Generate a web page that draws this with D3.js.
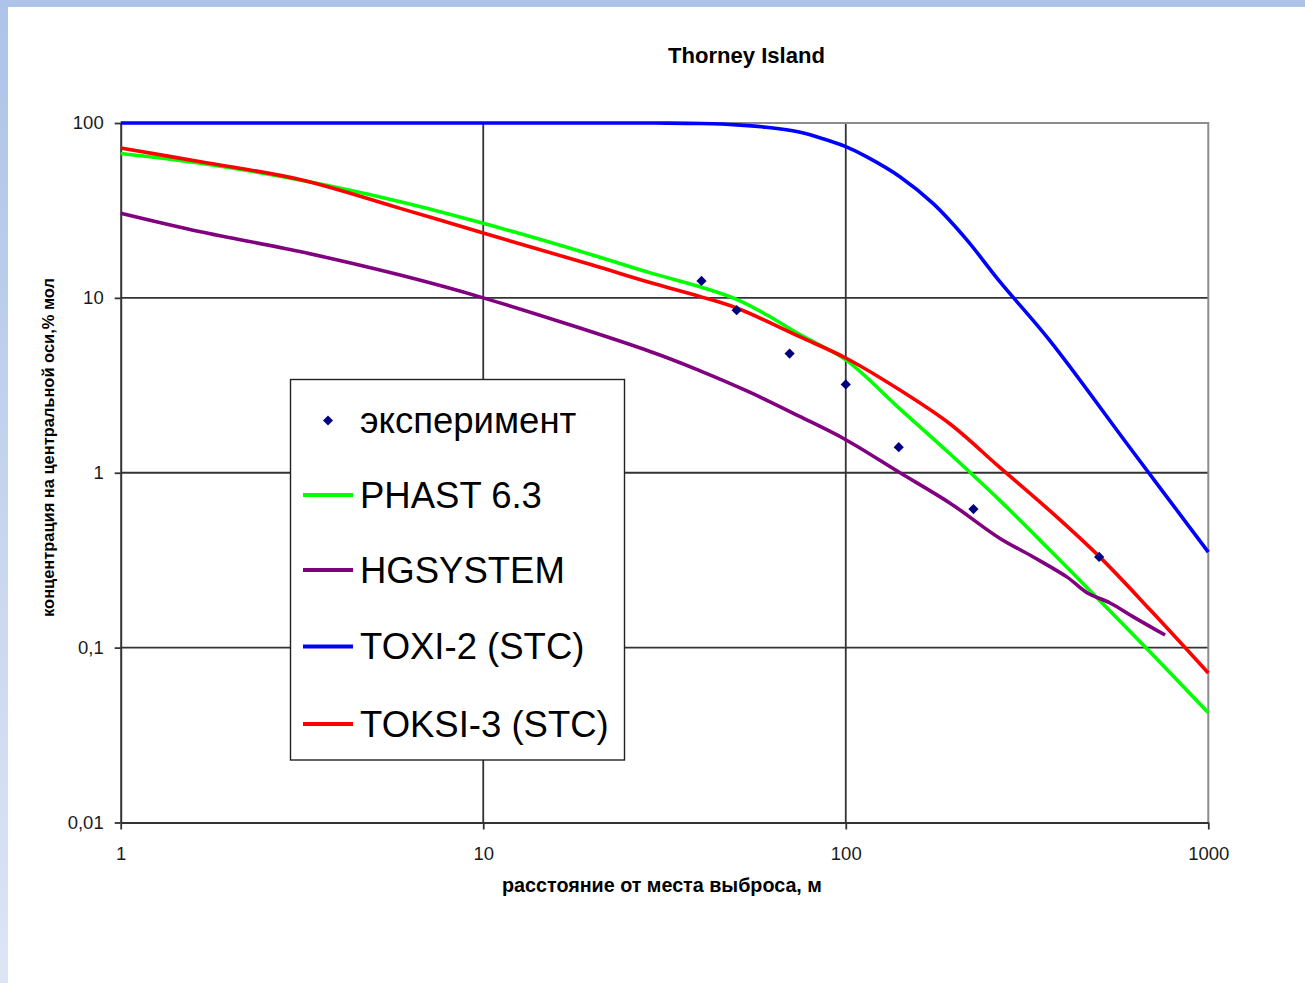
<!DOCTYPE html>
<html>
<head>
<meta charset="utf-8">
<script src="https://cdn.jsdelivr.net/npm/d3@7/dist/d3.min.js"></script>
<style>
  html, body { margin: 0; padding: 0; background: #fff; }
  svg { display: block; }
  text { font-family: "Liberation Sans", Arial, sans-serif; }
</style>
</head>
<body>
<svg id="chart" width="1305" height="983"></svg>
<script>
// Thorney Island: centre-line concentration vs distance from the release point

const chartTitle = "Thorney Island";
const xTitle = "расстояние от места выброса, м";
const yTitle = "концентрация на центральной оси,% мол";

const xTicks = [1, 10, 100, 1000];
const xTickLabels = ["1", "10", "100", "1000"];
const yTicks = [0.01, 0.1, 1, 10, 100];
const yTickLabels = ["0,01", "0,1", "1", "10", "100"];

// experiment
const expDist = [40, 50, 70, 100, 140, 225, 500];
const expConc = [12.5, 8.5, 4.8, 3.2, 1.4, 0.62, 0.33];

// PHAST 6.3
const phastDist = [1, 1.66, 3.12, 5.9, 10, 20, 28.9, 40, 50, 60.6, 74.9, 100, 141, 194, 265, 366, 504, 692, 1000];
const phastConc = [67, 58.9, 47.2, 35.5, 26.7, 17.6, 13.9, 11.5, 9.8, 7.98, 6.14, 4.42, 2.32, 1.28, 0.70, 0.36, 0.184, 0.094, 0.0424];

// HGSYSTEM
const hgDist = [1, 1.66, 3.12, 5.9, 10, 29, 39.5, 54.5, 74.6, 100, 140, 194, 265, 329, 408, 463, 536, 621, 760];
const hgConc = [30.5, 23.9, 18.4, 13.5, 10, 4.92, 3.84, 2.88, 2.10, 1.545, 1.01, 0.67, 0.424, 0.330, 0.253, 0.206, 0.180, 0.150, 0.118];

// TOXI-2 (STC)
const toxiDist = [1, 10, 25, 32, 40, 50, 60.3, 74.9, 87, 100, 114, 141, 174, 216, 265, 366, 608, 1000];
const toxiConc = [100, 100, 100, 99.9, 99.3, 97.6, 94.5, 88.5, 81, 73.2, 64.2, 49.3, 34.7, 21.4, 12.5, 5.68, 1.39, 0.352];

// TOKSI-3 (STC)
const toksiDist = [1, 1.66, 3.12, 5.9, 10, 20, 29, 39.5, 50, 74.6, 100, 141, 194, 265, 366, 504, 692, 1000];
const toksiConc = [72, 60, 47.5, 32.5, 23.5, 15.4, 12.2, 10.2, 8.75, 6.0, 4.53, 2.97, 1.9, 1.08, 0.605, 0.327, 0.164, 0.0716];

const seriesNames = ["эксперимент", "PHAST 6.3", "HGSYSTEM", "TOXI-2 (STC)", "TOKSI-3 (STC)"];
const seriesColors = ["#000080", "#00ff00", "#800080", "#0000ff", "#ff0000"];

const lines = [
  { dist: phastDist, conc: phastConc, color: seriesColors[1] },
  { dist: hgDist, conc: hgConc, color: seriesColors[2] },
  { dist: toxiDist, conc: toxiConc, color: seriesColors[3] },
  { dist: toksiDist, conc: toksiConc, color: seriesColors[4] }
];

const svg = d3.select("#chart");

// slide frame: blue band along top and left edges
const defs = svg.append("defs");
const grad = defs.append("linearGradient").attr("id", "leftBand")
  .attr("x1", 0).attr("y1", 0).attr("x2", 0).attr("y2", 1);
grad.append("stop").attr("offset", "0%").attr("stop-color", "#aec3e8");
grad.append("stop").attr("offset", "100%").attr("stop-color", "#dde5f5");
svg.append("rect").attr("x", 0).attr("y", 0).attr("width", 8).attr("height", 983).attr("fill", "url(#leftBand)");
svg.append("rect").attr("x", 0).attr("y", 0).attr("width", 1305).attr("height", 7).attr("fill", "#aec3e8");

const L = 120.7, R = 1208.3, T = 123, B = 822.5;
const x = d3.scaleLog().domain([1, 1000]).range([L, R]);
const y = d3.scaleLog().domain([0.01, 100]).range([B, T]);

// grid
const grid = svg.append("g");
grid.selectAll("line.gx").data(xTicks.slice(1, -1)).join("line")
  .attr("x1", d => x(d)).attr("x2", d => x(d)).attr("y1", T).attr("y2", B)
  .attr("stroke", "#333").attr("stroke-width", 1.8);
grid.selectAll("line.gy").data(yTicks.slice(1, -1)).join("line")
  .attr("y1", d => y(d)).attr("y2", d => y(d)).attr("x1", L).attr("x2", R)
  .attr("stroke", "#333").attr("stroke-width", 1.8);

// plot border (top / right)
svg.append("path")
  .attr("d", `M${L},${T}H${R}V${B}`)
  .attr("fill", "none").attr("stroke", "#8c8c8c").attr("stroke-width", 2);

// axes
const xAxis = svg.append("g").attr("transform", `translate(0,${B})`)
  .call(d3.axisBottom(x).tickValues(xTicks).tickFormat((d, i) => xTickLabels[i]).tickSize(7).tickPadding(17).tickSizeOuter(0));
const yAxis = svg.append("g").attr("transform", `translate(${L},0)`)
  .call(d3.axisLeft(y).tickValues(yTicks).tickFormat((d, i) => yTickLabels[i]).tickSize(6).tickPadding(11).tickSizeOuter(0));
[xAxis, yAxis].forEach(a => {
  a.select(".domain").attr("stroke", "#333").attr("stroke-width", 2);
  a.selectAll(".tick line").attr("stroke", "#333").attr("stroke-width", 1.8);
  a.selectAll(".tick text").attr("font-size", 18.5).attr("fill", "#1a1a1a")
    .attr("font-family", "'Liberation Sans', Arial, sans-serif");
});

// model curves
const lineGen = d3.line().x(d => x(d[0])).y(d => y(d[1])).curve(d3.curveCatmullRom.alpha(0.5));
svg.append("g").selectAll("path").data(lines).join("path")
  .attr("d", s => lineGen(s.dist.map((d, i) => [d, s.conc[i]])))
  .attr("fill", "none").attr("stroke", s => s.color).attr("stroke-width", 3.6)
  .attr("stroke-linejoin", "round").attr("stroke-linecap", "butt");

// experimental points
const diamond = d3.symbol().type(d3.symbolSquare).size(52);
svg.append("g").selectAll("path").data(expDist.map((d, i) => [d, expConc[i]])).join("path")
  .attr("d", diamond())
  .attr("transform", d => `translate(${x(d[0])},${y(d[1])}) rotate(45)`)
  .attr("fill", seriesColors[0]);

// fit a text element to a given width
function fitText(sel, width) {
  const len = sel.node().getComputedTextLength();
  const fs = parseFloat(sel.attr("font-size"));
  sel.attr("font-size", fs * width / len);
}

// titles
const title = svg.append("text").attr("x", 746.5).attr("y", 62.5).attr("text-anchor", "middle")
  .attr("font-size", 21).attr("font-weight", "bold").attr("fill", "#000").text(chartTitle);
fitText(title, 157);

const xt = svg.append("text").attr("x", 662).attr("y", 892).attr("text-anchor", "middle")
  .attr("font-size", 16).attr("font-weight", "bold").attr("fill", "#000").text(xTitle);
fitText(xt, 320);

const yt = svg.append("text").attr("transform", "translate(54,447.5) rotate(-90)").attr("text-anchor", "middle")
  .attr("font-size", 16).attr("font-weight", "bold").attr("fill", "#000").text(yTitle);
fitText(yt, 339);

// legend
const lg = svg.append("g");
lg.append("rect").attr("x", 290.5).attr("y", 379.5).attr("width", 334).attr("height", 380.5)
  .attr("fill", "#fff").attr("stroke", "#222").attr("stroke-width", 1.4);
const rowY = [420.5, 495, 570, 646.5, 724];
seriesNames.forEach((name, i) => {
  if (i === 0) {
    lg.append("path").attr("d", d3.symbol().type(d3.symbolSquare).size(50)())
      .attr("transform", `translate(328,${rowY[i]}) rotate(45)`).attr("fill", seriesColors[0]);
  } else {
    lg.append("line").attr("x1", 303).attr("x2", 353).attr("y1", rowY[i]).attr("y2", rowY[i])
      .attr("stroke", seriesColors[i]).attr("stroke-width", 4);
  }
  lg.append("text").attr("x", 360).attr("y", rowY[i] + 12.5)
    .attr("font-size", 36.5).attr("fill", "#000").text(name);
});
</script>
</body>
</html>
